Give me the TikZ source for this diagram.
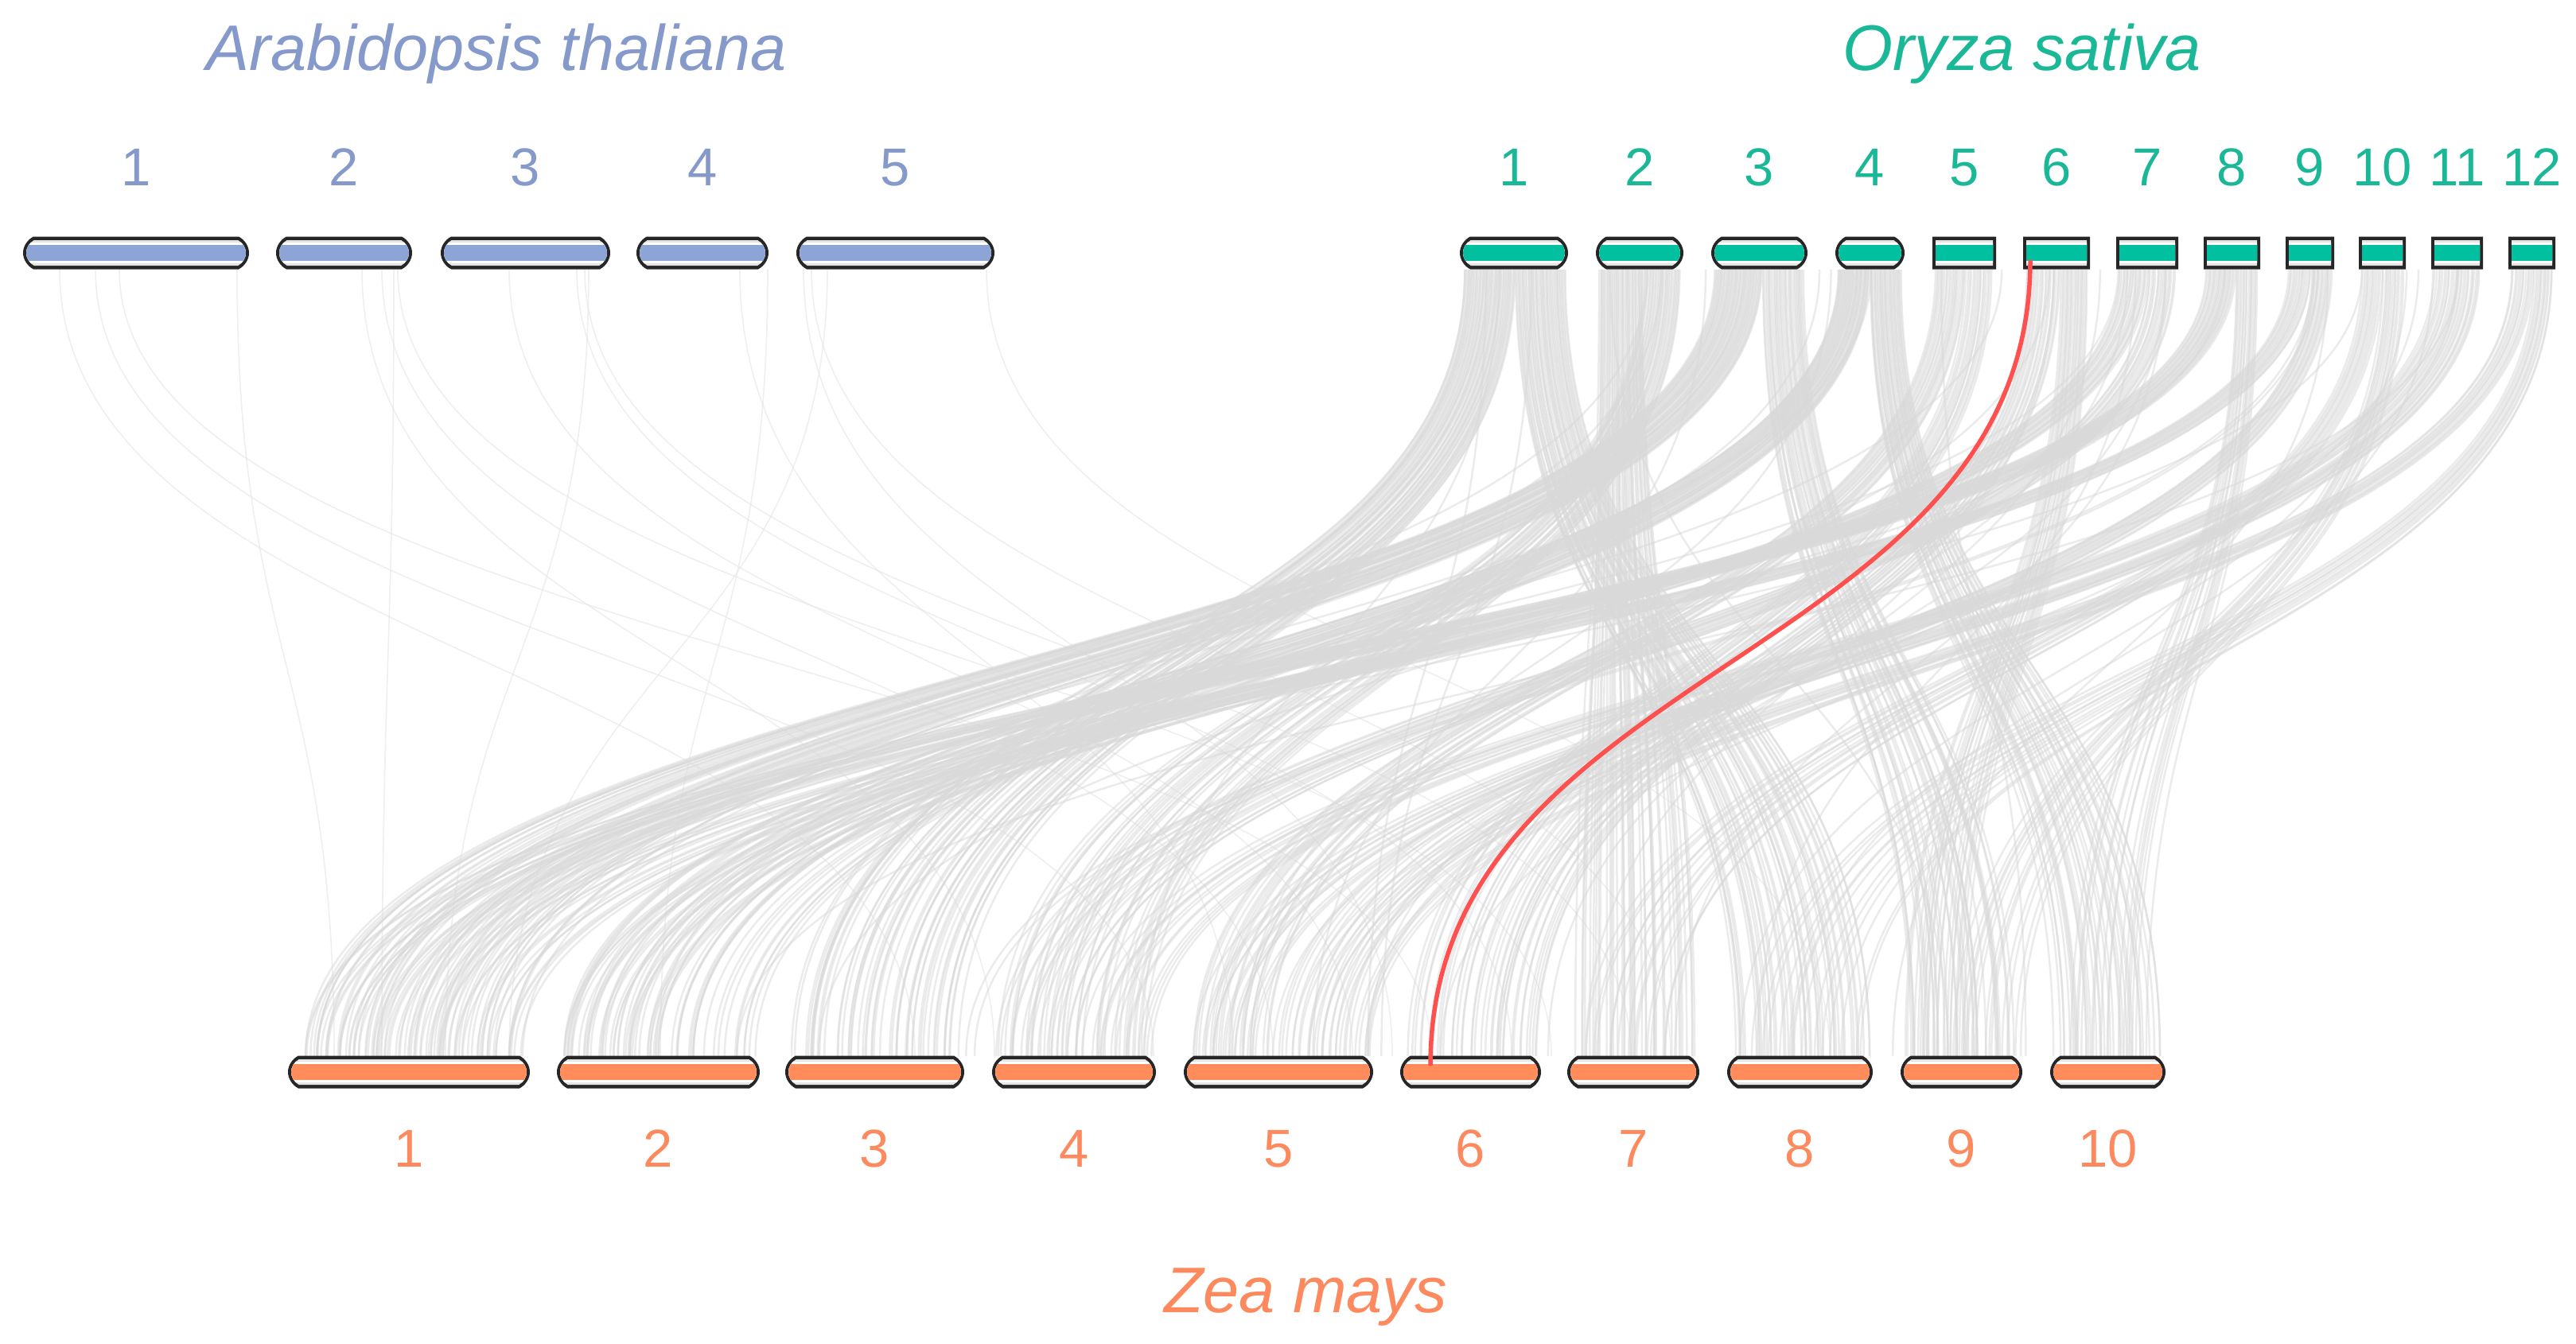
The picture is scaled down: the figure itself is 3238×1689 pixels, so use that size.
\documentclass[tikz,border=0pt]{standalone}
\usepackage{fontspec}
\setmainfont{Liberation Sans}
\definecolor{arabtxt}{HTML}{8599CB}
\definecolor{arabfill}{HTML}{8CA4D6}
\definecolor{ricetxt}{HTML}{1AB896}
\definecolor{ricefill}{HTML}{00C0A0}
\definecolor{maizetxt}{HTML}{FC8A5E}
\definecolor{maizefill}{HTML}{FF8C5A}
\definecolor{redlink}{HTML}{FF5050}
\newcommand\titlefont{\fontsize{81}{97}\selectfont\itshape}
\newcommand\numfont{\fontsize{67}{80}\selectfont}
% shape of a chromosome: x0, x1, y-mid, half height, chamfer
\newcommand\chrshape[5]{({#1+#5},{#3-#4}) -- ({#2-#5},{#3-#4})
  .. controls ({#2-0.4*#5},{#3-0.8*#4}) and ({#2},{#3-0.4*#4}) .. ({#2},{#3})
  .. controls ({#2},{#3+0.4*#4}) and ({#2-0.4*#5},{#3+0.8*#4}) .. ({#2-#5},{#3+#4})
  -- ({#1+#5},{#3+#4})
  .. controls ({#1+0.4*#5},{#3+0.8*#4}) and ({#1},{#3+0.4*#4}) .. ({#1},{#3})
  .. controls ({#1},{#3-0.4*#4}) and ({#1+0.4*#5},{#3-0.8*#4}) .. cycle}
\newcommand\chromo[5]{%
  \fill[black!85] \chrshape{#1}{#2}{#3}{20.5}{#5};
  \begin{scope}
    \clip \chrshape{#1+4}{#2-4}{#3}{16}{#5*0.75};
    \fill[black!10] ({#1},{#3-17}) rectangle ({#2},{#3+17});
    \fill[white] ({#1},{#3-13}) rectangle ({#2},{#3+13});
    \fill[#4] ({#1},{#3-10}) rectangle ({#2},{#3+10});
  \end{scope}}
\begin{document}
\begin{tikzpicture}[x=1pt,y=-1pt,
  link/.style={draw=black!15,draw opacity=0.5,line width=2.5pt},
  faintlink/.style={draw=black!10,draw opacity=0.6,line width=1.6pt},
  hilite/.style={draw=redlink,line width=5.5pt},
  arablab/.style={text=arabtxt,anchor=base,inner sep=0pt,font=\numfont},
  ricelab/.style={text=ricetxt,anchor=base,inner sep=0pt,font=\numfont},
  maizelab/.style={text=maizetxt,anchor=base,inner sep=0pt,font=\numfont}]
\useasboundingbox (0,0) rectangle (3238,1689);
\fill[white] (0,0) rectangle (3238,1689);

% ---- faint Arabidopsis links ----
\foreach \ax/\mx in {75/1150,120/1450,150/1800,298/420,455/1250,480/1600,500/1950,
  495/480,640/1700,725/1900,735/2050,740/560,930/1550,965/830,1010/1750,1020/2100,1240/2300,1040/640}
  {\draw[faintlink] (\ax,339) .. controls (\ax,833) and (\mx,833) .. (\mx,1328);}

% ---- rice - maize links ----
\pgfmathsetseed{7}
\foreach \ra/\rb/\ma/\mb/\n in {
  1840/1905/995/1205/50, 1905/1968/2180/2350/45,
  2010/2065/1980/2130/40, 2065/2112/1255/1445/32,
  2155/2215/370/660/50, 2215/2268/2395/2535/32,
  2310/2350/705/950/40, 2350/2390/2580/2715/32,
  2432/2470/1495/1600/20, 2470/2505/1765/1850/16,
  2546/2590/1850/1935/20, 2590/2624/2395/2470/20,
  2663/2700/705/830/20, 2700/2735/1250/1360/16,
  2773/2810/380/520/24, 2810/2838/2600/2700/16,
  2876/2905/520/660/16, 2905/2931/1600/1720/16,
  2968/2995/1990/2100/13, 2995/3021/2450/2540/13,
  3059/3090/1360/1450/13, 3090/3118/1500/1580/13,
  3156/3185/1620/1725/13, 3185/3209/2200/2340/13}
{
  \foreach \i in {1,...,\n} {
    \pgfmathsetmacro\t{(\i-1+rnd)/\n}
    \pgfmathsetmacro\rx{\ra+\t*(\rb-\ra)}
    \pgfmathsetmacro\tt{min(1,max(0,\t+0.12*(rnd-0.5)))}
    \pgfmathsetmacro\mx{\ma+\tt*(\mb-\ma)}
    \draw[link] (\rx,339) .. controls (\rx,833) and (\mx,833) .. (\mx,1328);
  }
}
\foreach \k in {1,...,30} {
  \pgfmathsetmacro\rx{1845+rnd*1360}
  \pgfmathsetmacro\mx{375+rnd*2340}
  \draw[link] (\rx,339) .. controls (\rx,833) and (\mx,833) .. (\mx,1328);
}

% ---- chromosomes ----
\foreach \a/\b in {29/313,347/518,554/767,800/966,1001/1250}
  {\chromo{\a}{\b}{318}{arabfill}{13}}
\foreach \a/\b in {1835/1971,2006/2116,2151/2272,2307/2394}
  {\chromo{\a}{\b}{318}{ricefill}{13}}
\foreach \a/\b in {2429/2509,2543/2627,2660/2738,2770/2841,2873/2934,2965/3024,3056/3121,3153/3212}
  {\chromo{\a}{\b}{318}{ricefill}{0}}
\foreach \a/\b in {362/666,700/955,987/1212,1247/1453,1488/1726,1760/1937,1970/2136,2171/2354,2389/2542,2577/2722}
  {\chromo{\a}{\b}{1348}{maizefill}{13}}

% ---- highlighted link ----
\coordinate (redtop) at (2552,327);
\coordinate (redbot) at (1798,1340);
\draw[hilite] (redtop) .. controls (2552,833) and (1798,833) .. (redbot);

% ---- labels ----
\node[text=arabtxt,anchor=base,inner sep=0pt,font=\titlefont] (tarab) at (624,88) {Arabidopsis thaliana};
\node[text=ricetxt,anchor=base,inner sep=0pt,font=\titlefont] (trice) at (2542,88) {Oryza sativa};
\node[text=maizetxt,anchor=base,inner sep=0pt,font=\titlefont] (tmaize) at (1641,1650) {Zea mays};
\foreach \x/\l in {171/1,432.5/2,660.5/3,883/4,1125.5/5}
  {\node[arablab] (a\l) at (\x,233) {\l};}
\foreach \x/\l in {1903/1,2061/2,2211.5/3,2350.5/4,2469/5,2585/6,2699/7,2805.5/8,2903.5/9,2994.5/10,3088.5/11,3182.5/12}
  {\node[ricelab] (r\l) at (\x,233) {\l};}
\foreach \x/\l in {514/1,827.5/2,1099.5/3,1350/4,1607/5,1848.5/6,2053/7,2262.5/8,2465.5/9,2649.5/10}
  {\node[maizelab] (m\l) at (\x,1467) {\l};}
\end{tikzpicture}
\end{document}
